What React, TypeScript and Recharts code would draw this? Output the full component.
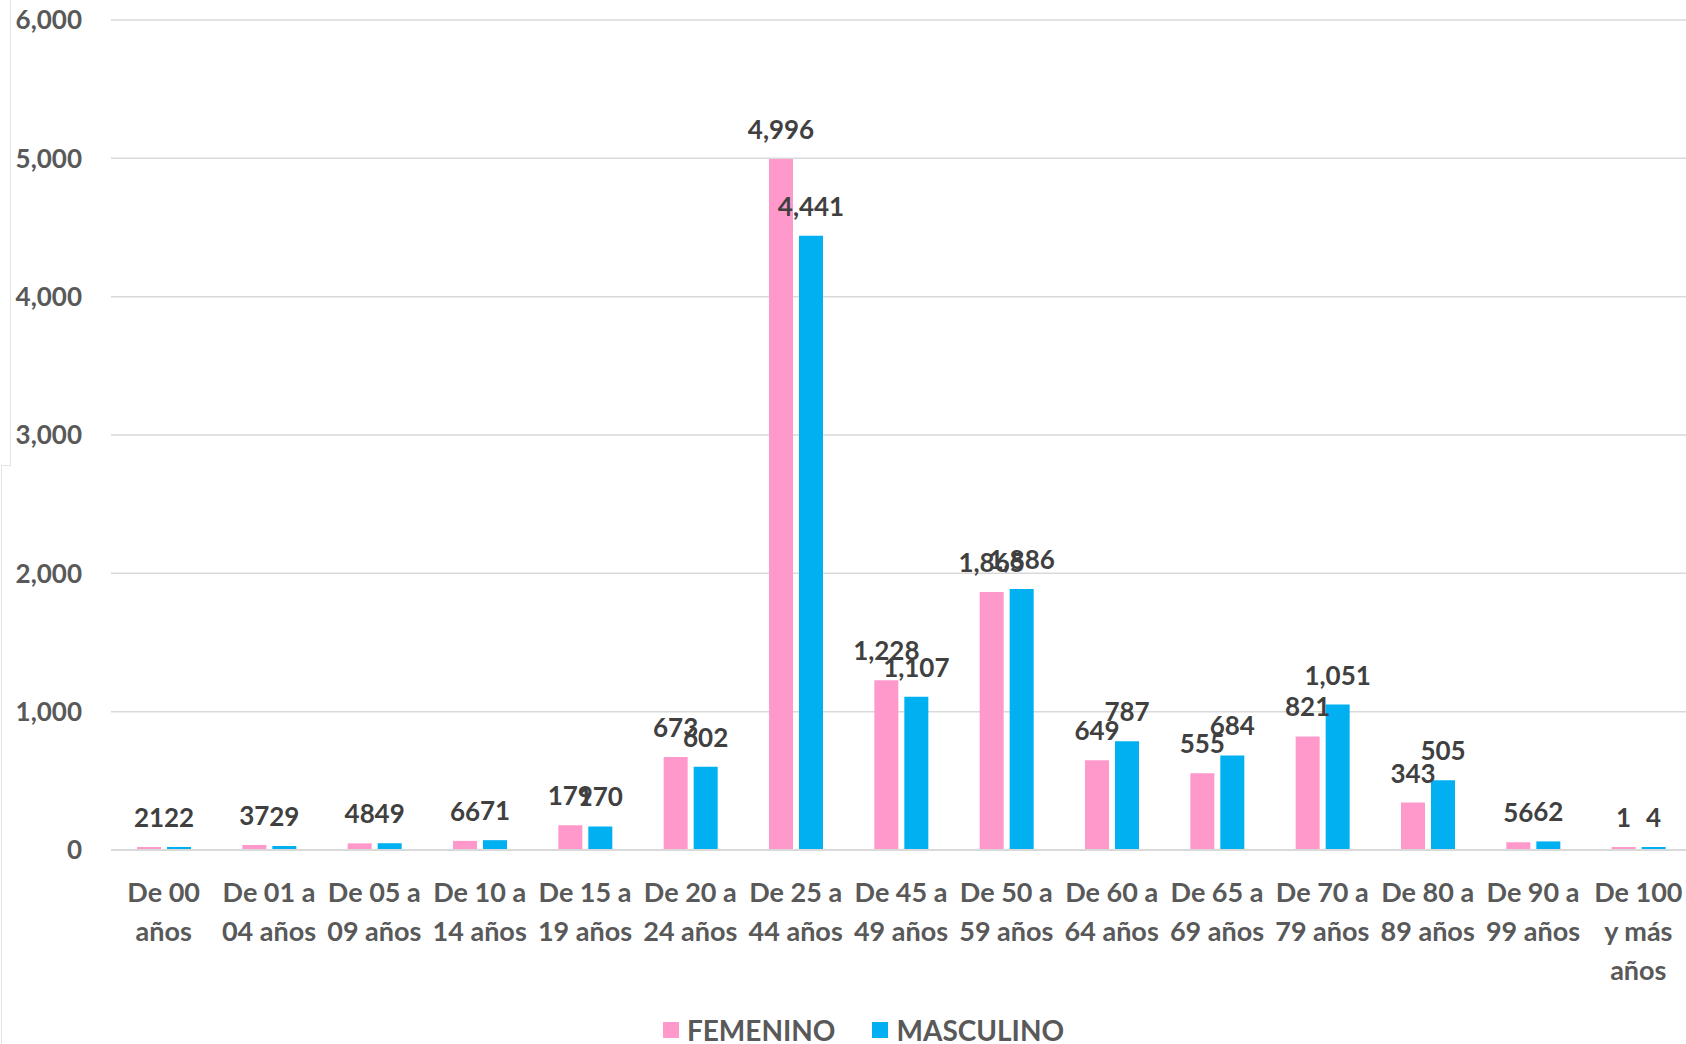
import React from 'react';
import { BarChart, Bar, XAxis, YAxis, CartesianGrid, Legend, LabelList } from 'recharts';

document.body.style.margin = '0';

const categories = [
  'De 00 años',
  'De 01 a 04 años',
  'De 05 a 09 años',
  'De 10 a 14 años',
  'De 15 a 19 años',
  'De 20 a 24 años',
  'De 25 a 44 años',
  'De 45 a 49 años',
  'De 50 a 59 años',
  'De 60 a 64 años',
  'De 65 a 69 años',
  'De 70 a 79 años',
  'De 80 a 89 años',
  'De 90 a 99 años',
  'De 100 y más años',
];
const femenino = [21, 37, 48, 66, 179, 673, 4996, 1228, 1865, 649, 555, 821, 343, 56, 1];
const masculino = [22, 29, 49, 71, 170, 602, 4441, 1107, 1886, 787, 684, 1051, 505, 62, 4];
const yTicks = [0, 1000, 2000, 3000, 4000, 5000, 6000];

const PINK = '#FF99CC';
const BLUE = '#00B0F0';
const FONT = 'Lato, "Open Sans", sans-serif';

const data = categories.map((name, i) => ({ name, FEMENINO: femenino[i], MASCULINO: masculino[i] }));

const fmt = (v: number) => v.toLocaleString('en-US');

// greedy word wrap, about 7 characters per line like the original
const wrap = (s: string, max = 7) => {
  const lines: string[] = [];
  let cur = '';
  s.split(' ').forEach(w => {
    if (!cur) cur = w;
    else if ((cur + ' ' + w).length <= max) cur += ' ' + w;
    else { lines.push(cur); cur = w; }
  });
  if (cur) lines.push(cur);
  return lines;
};

const CategoryTick = (props: any) => {
  const { x, y, payload } = props;
  const lines = wrap(payload.value);
  return (
    <text x={x} y={y} textAnchor="middle" fill="#595959" fontSize={27} fontWeight={700} fontFamily={FONT}>
      {lines.map((l, i) => (
        <tspan key={i} x={x} dy={i === 0 ? 44 : 39}>{l}</tspan>
      ))}
    </text>
  );
};

const LegendBox = () => (
  <div style={{ display: 'flex', justifyContent: 'center', gap: 37, fontFamily: FONT, fontWeight: 700, fontSize: 28, lineHeight: '28px', color: '#595959', paddingTop: 16, paddingLeft: 36 }}>
    {[['FEMENINO', PINK], ['MASCULINO', BLUE]].map(([n, c]) => (
      <div key={n} style={{ display: 'flex', alignItems: 'center', gap: 8 }}>
        <span style={{ width: 16, height: 16, background: c, display: 'inline-block' }} />
        <span>{n}</span>
      </div>
    ))}
  </div>
);

export default function App() {
  return (
    <div style={{ position: 'relative', width: 1686, height: 1044, overflow: 'hidden', background: '#fff' }}>
      <div style={{ position: 'absolute', left: 10, top: 0, width: 1, height: 465, background: '#e3e3e3' }} />
      <div style={{ position: 'absolute', left: 1, top: 465, width: 10, height: 1, background: '#e3e3e3' }} />
      <div style={{ position: 'absolute', left: 1, top: 465, width: 1, height: 579, background: '#e3e3e3' }} />
      <BarChart
        width={1691}
        height={1044}
        data={data}
        margin={{ top: 20, right: 0, left: 0, bottom: 0 }}
        barGap={6}
        style={{ fontFamily: FONT }}
      >
        <CartesianGrid vertical={false} stroke="#d9d9d9" strokeWidth={1.5} />
        <XAxis
          dataKey="name"
          interval={0}
          height={150}
          axisLine={{ stroke: '#d9d9d9', strokeWidth: 2 }}
          tickLine={false}
          tick={<CategoryTick />}
        />
        <YAxis
          width={111}
          domain={[0, 6000]}
          ticks={yTicks}
          axisLine={false}
          tickLine={false}
          tickMargin={23}
          tickFormatter={fmt}
          tick={{ fill: '#595959', fontSize: 26, fontWeight: 700, fontFamily: FONT }}
        />
        <Legend verticalAlign="bottom" height={44} content={<LegendBox />} />
        <Bar dataKey="FEMENINO" fill={PINK} barSize={24} minPointSize={3} isAnimationActive={false}>
          <LabelList dataKey="FEMENINO" position="top" offset={20} formatter={(v: any) => fmt(v)} fill="#404040" fontSize={26} fontWeight={700} fontFamily={FONT} />
        </Bar>
        <Bar dataKey="MASCULINO" fill={BLUE} barSize={24} minPointSize={3} isAnimationActive={false}>
          <LabelList dataKey="MASCULINO" position="top" offset={20} formatter={(v: any) => fmt(v)} fill="#404040" fontSize={26} fontWeight={700} fontFamily={FONT} />
        </Bar>
      </BarChart>
    </div>
  );
}
